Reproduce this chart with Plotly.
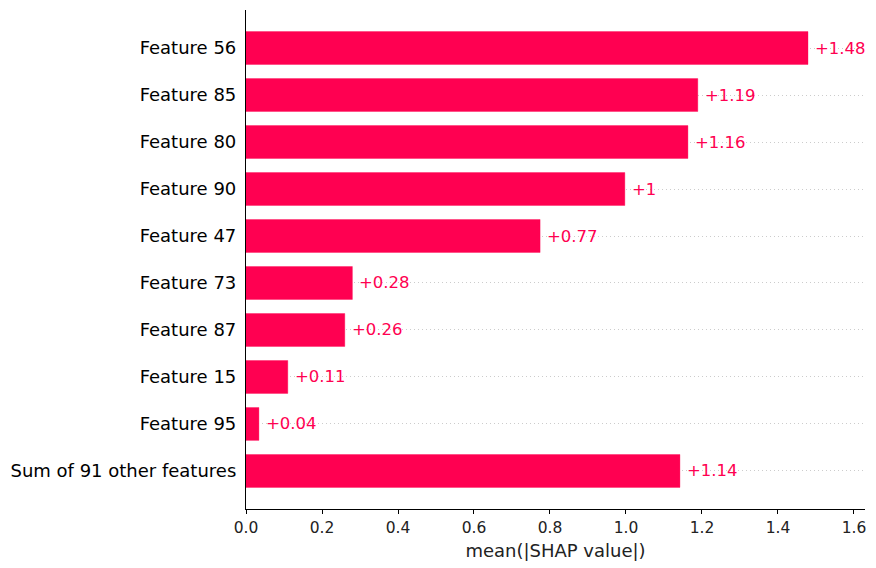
import plotly.graph_objects as go

features = ["Feature 56", "Feature 85", "Feature 80", "Feature 90", "Feature 47",
            "Feature 73", "Feature 87", "Feature 15", "Feature 95", "Sum of 91 other features"]
values = [1.479, 1.189, 1.163, 0.997, 0.774, 0.280, 0.260, 0.110, 0.034, 1.142]
value_labels = ["+1.48", "+1.19", "+1.16", "+1", "+0.77", "+0.28", "+0.26", "+0.11", "+0.04", "+1.14"]
x_ticks = [0.0, 0.2, 0.4, 0.6, 0.8, 1.0, 1.2, 1.4, 1.6]
x_tick_labels = ["0.0", "0.2", "0.4", "0.6", "0.8", "1.0", "1.2", "1.4", "1.6"]

RED = "#ff0051"
FONT = "DejaVu Sans"

fig = go.Figure()
fig.add_trace(go.Bar(
    x=values, y=features, orientation="h", width=0.7,
    marker=dict(color=RED, line=dict(color="rgba(255,0,81,0.35)", width=1)),
    hoverinfo="skip",
))

for f, v, lab in zip(features, values, value_labels):
    fig.add_annotation(x=v, y=f, text=lab, showarrow=False, xanchor="left",
                       yanchor="middle", xshift=5,
                       font=dict(family=FONT, size=16.5, color=RED))

fig.update_layout(
    width=876, height=568,
    margin=dict(l=246, r=11, t=10, b=59, autoexpand=False),
    plot_bgcolor="white", paper_bgcolor="white",
    showlegend=False,
    font=dict(family=FONT),
    xaxis=dict(
        range=[0, 1.629], tickvals=x_ticks, ticktext=x_tick_labels,
        automargin=False,
        showgrid=False, zeroline=False, showline=True, linecolor="black", linewidth=1.2,
        ticks="outside", ticklen=4, tickcolor="black", tickwidth=1,
        tickfont=dict(family=FONT, size=15.5, color="#222"),
        title=dict(text="mean(|SHAP value|)", font=dict(family=FONT, size=18, color="#222"), standoff=8),
    ),
    yaxis=dict(
        categoryorder="array", categoryarray=features,
        range=[9.81, -0.81], automargin=False,
        showgrid=True, gridcolor="#cccccc", griddash="1px,3px", gridwidth=1,
        zeroline=False, showline=True, linecolor="black", linewidth=1.2,
        ticks="", ticklabelstandoff=5,
        tickfont=dict(family=FONT, size=18, color="black"),
    ),
)

fig.write_html("out.html")
